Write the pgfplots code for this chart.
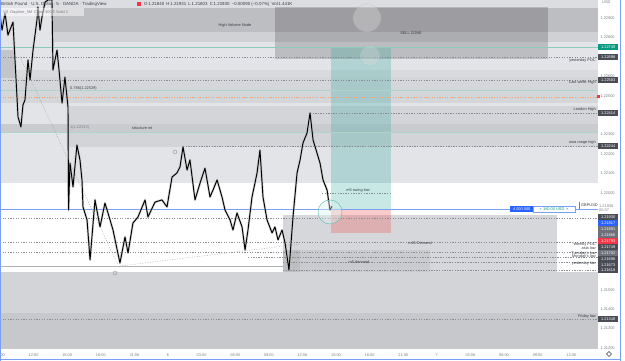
\documentclass[border=0pt]{standalone}
\usepackage{pgfplots}
\pgfplotsset{compat=1.18}
\usepackage{pgfplotstable}
\usepackage{fontspec}
\setmainfont{Liberation Sans}
\definecolor{tvgray}{HTML}{787B86}
\definecolor{tvtext}{HTML}{3A3D46}
\definecolor{cbase}{HTML}{E3E4E7}
\definecolor{dlc}{HTML}{8A8D96}
\definecolor{tealL}{HTML}{8CCBB8}
\definecolor{tealLL}{HTML}{ADD6C8}
\definecolor{tvteal}{HTML}{26A69A}
\definecolor{tvred}{HTML}{EF5350}
\definecolor{tvblue}{HTML}{2962FF}
\definecolor{lblue}{HTML}{7AA0F5}
\definecolor{orangeL}{HTML}{F2A36E}
\definecolor{bxdark}{HTML}{4A4D56}
\definecolor{bxgray}{HTML}{6E717B}
\definecolor{bxteal}{HTML}{089981}
\definecolor{bxred}{HTML}{F23645}
\definecolor{gA}{HTML}{DCDDE0}
\definecolor{gB}{HTML}{BDBEC2}
\definecolor{gC}{HTML}{D0D1D4}
\definecolor{gD}{HTML}{D9DADD}
\definecolor{gE}{HTML}{D5D6DA}
\definecolor{gF}{HTML}{D4D5D9}
\definecolor{gG}{HTML}{CACBCF}
\definecolor{gH}{HTML}{D3D4D8}
\definecolor{gI}{HTML}{C4C5C9}
\definecolor{gJ}{HTML}{C7C8CC}
\definecolor{gK}{HTML}{D6D7DA}
\definecolor{gL}{HTML}{B0B3B8}
\definecolor{diag}{HTML}{A0A3A8}
\newcommand{\tf}{\fontsize{4.4}{5}\selectfont}
\newcommand{\smf}{\fontsize{3.9}{4.3}\selectfont}
\newcommand{\pp}[2]{(axis cs:{#1/11.2-15},{1.229-(#2-18)/19410})}
\newcommand{\q}[2]{(#1,{361-#2})}
\pgfplotstableread{
h p
-15.00 1.22915
-14.82 1.22838
-14.55 1.22926
-14.29 1.22812
-13.84 1.22879
-13.66 1.22684
-13.39 1.22390
-13.13 1.22339
-12.95 1.22452
-12.77 1.22478
-12.50 1.22684
-12.32 1.22581
-12.05 1.22735
-11.70 1.22890
-11.61 1.22957
-11.43 1.22838
-11.25 1.22905
-10.98 1.22982
-10.71 1.22993
-10.36 1.22993
-10.27 1.22632
-9.91 1.22735
-9.73 1.22632
-9.46 1.22462
-9.20 1.22596
-9.02 1.22493
-8.93 1.22442
-8.88 1.21911
-8.75 1.22153
-8.48 1.22030
-8.13 1.22246
-7.86 1.22169
-7.68 1.22066
-7.59 1.21927
-7.23 1.21860
-6.96 1.21654
-6.52 1.21963
-6.07 1.21824
-5.63 1.21947
-5.36 1.21896
-4.91 1.21808
-4.29 1.21638
-3.84 1.21772
-3.57 1.21690
-3.13 1.21844
-2.68 1.21875
-2.05 1.21963
-1.79 1.21875
-1.16 1.21952
-0.54 1.21963
-0.09 1.21927
0.36 1.22081
0.80 1.22102
1.07 1.22133
1.34 1.22236
1.70 1.22117
1.96 1.22169
2.41 1.21963
2.86 1.22050
3.30 1.22127
3.75 1.21978
4.02 1.22014
4.38 1.22066
4.82 1.21978
5.09 1.21911
5.54 1.21860
5.80 1.21808
6.16 1.21896
6.61 1.21824
6.88 1.21705
7.14 1.21808
7.50 1.21978
7.95 1.22102
8.21 1.22220
8.48 1.21978
8.84 1.21860
9.29 1.21793
9.55 1.21824
9.82 1.21757
10.18 1.21808
10.45 1.21741
10.80 1.21602
11.16 1.21875
11.52 1.22102
11.79 1.22169
12.05 1.22256
12.41 1.22308
12.68 1.22411
12.95 1.22272
13.30 1.22205
13.57 1.22153
13.84 1.22066
14.20 1.22014
14.46 1.21911
14.64 1.21930
}\price
\tikzset{dl/.style={draw=dlc, line width=0.4pt, dash pattern=on 1.3pt off 1.3pt}}
\newcommand{\plab}[3]{\node[fill=#3, text=white, font=\smf, inner sep=0pt, minimum width=20pt, minimum height=5.4pt, anchor=west] at \q{598}{#1} {#2};}
\newcommand{\rl}[2]{\node[font=\smf, text=tvtext, anchor=east, inner sep=0pt] at \q{596}{#1} {#2};}
\begin{document}
\begin{tikzpicture}[x=1pt,y=1pt]
\useasboundingbox (0,0) rectangle (625,361);
\begin{axis}[
  at={(0pt,12pt)}, anchor=south west,
  width=598pt, height=349pt, scale only axis,
  xmin=-15, xmax=38.39, ymin=1.21195, ymax=1.22993,
  axis line style={draw=none},
  major tick length=0pt,
  xtick={-15,-12,...,36},
  xticklabels={09:00,12:00,15:00,18:00,21:00,6,03:00,06:00,09:00,12:00,15:00,18:00,21:00,7,03:00,06:00,09:00,12:00},
  ytick={1.229,1.228,1.226,1.225,1.223,1.222,1.221,1.220,1.215,1.214,1.213,1.212},
  yticklabels={1.22900,1.22800,1.22600,1.22500,1.22300,1.22200,1.22100,1.22000,1.21500,1.21400,1.21300,1.21200},
  yticklabel pos=right, xtick pos=bottom, ytick pos=right,
  tick label style={font=\smf, text=tvgray},
  yticklabel style={anchor=west, xshift=-1pt},
  xticklabel style={yshift=-1pt},
  clip mode=individual,
]
% upper background and bands
\fill[cbase] \pp{0}{0} rectangle \pp{598}{183};
\fill[gA] \pp{53}{0} rectangle \pp{598}{8};
\fill[gB] \pp{53}{8} rectangle \pp{598}{32};
\fill[gC] \pp{53}{32} rectangle \pp{598}{42};
\fill[gD] \pp{0}{70} rectangle \pp{598}{77};
\fill[gE] \pp{0}{77} rectangle \pp{598}{103};
\fill[gF] \pp{68}{106} rectangle \pp{598}{124};
\fill[gG] \pp{0}{124} rectangle \pp{598}{132};
\fill[gH] \pp{68}{132} rectangle \pp{598}{147};
\fill[gI] \pp{0}{50} rectangle \pp{15}{78};
\fill[black, opacity=0.17] \pp{275}{7} rectangle \pp{548}{59};
% lower zones
\fill[gH] \pp{0}{272} rectangle \pp{598}{313};
\fill[gJ] \pp{0}{313} rectangle \pp{598}{349};
\fill[gK] \pp{283}{215} rectangle \pp{557}{272};
\fill[gG] \pp{283}{250} rectangle \pp{430}{272};
\fill[gB] \pp{283}{250} rectangle \pp{300}{272};
% position tool
\fill[tvteal, opacity=0.26] \pp{331}{47} rectangle \pp{391}{209};
\fill[tvred, opacity=0.3] \pp{331}{209} rectangle \pp{391}{233};
% horizontal levels
\draw[tealL, line width=0.6pt] \pp{0}{47} -- \pp{598}{47};
\draw[tealLL, line width=0.6pt] \pp{0}{90} -- \pp{598}{90};
\draw[tealLL, line width=0.6pt] \pp{0}{132} -- \pp{598}{132};
\draw[orangeL, line width=0.45pt, dash pattern=on 1.3pt off 1.3pt] \pp{0}{97} -- \pp{598}{97};
\draw[dl] \pp{0}{57} -- \pp{598}{57};
\draw[dl] \pp{0}{80} -- \pp{598}{80};
\draw[dl] \pp{310}{113} -- \pp{598}{113};
\draw[dl] \pp{183}{146} -- \pp{598}{146};
\draw[dl] \pp{322}{193} -- \pp{391}{193};
\draw[dl] \pp{0}{218} -- \pp{598}{218};
\draw[dl] \pp{0}{242} -- \pp{598}{242};
\draw[dl] \pp{0}{252} -- \pp{598}{252};
\draw[dl] \pp{248}{257} -- \pp{598}{257};
\draw[dl] \pp{283}{262} -- \pp{598}{262};
\draw[dl] \pp{283}{270} -- \pp{598}{270};
\draw[dl] \pp{0}{319} -- \pp{598}{319};
\draw[gL, line width=0.5pt] \pp{0}{266} -- \pp{283}{266};
\draw[lblue, line width=0.5pt] \pp{0}{209} -- \pp{598}{209};
% diagonals
\draw[diag, line width=0.4pt, dash pattern=on 1pt off 1.5pt] \pp{20}{57} -- \pp{118}{265};
\draw[diag, line width=0.4pt, dash pattern=on 1pt off 1.5pt] \pp{120}{266} -- \pp{300}{244};
% price
\addplot[gray!55, line width=2.4pt, line join=round, opacity=0.6] table[x=h,y=p]{\price};
\addplot[black, line width=0.95pt, line join=round] table[x=h,y=p]{\price};
\end{axis}
% ---- annotations (pixel positions)
\draw[gray!70, densely dotted, line width=0.4pt, fill=gray!25, fill opacity=0.35] \q{367}{18} circle (14);
\draw[tvteal!60, densely dotted, line width=0.4pt, fill=gray!30, fill opacity=0.35] \q{370}{56} circle (10);
\draw[tvteal!70, line width=0.5pt, fill=tvteal!15, fill opacity=0.4] \q{330}{212} circle (12);
\draw[gray, line width=0.3pt] \q{115}{273} circle (2);
\draw[gray, line width=0.3pt] \q{175}{152} circle (2);
% header
\fill[white, opacity=0.5] \q{0}{16} rectangle \q{84}{8};
\node[font=\tf, text=tvtext, anchor=west, inner sep=0pt] at \q{1}{4} {British Pound · U.S. Dollar · 5 · OANDA · TradingView};
\fill[bxred] \q{137}{2} rectangle \q{141}{6};
\node[font=\tf, text=tvtext, anchor=west, inner sep=0pt] at \q{144}{4} {O\,1.21840\enspace H\,1.21931\enspace L\,1.21803\enspace C\,1.21930\enspace −0.00090 (−0.07\%)\enspace Vol\,1.441K};
\node[font=\smf, text=tvgray, anchor=west, inner sep=0pt] at \q{3}{12} {VS\enspace Daytime\_5M\enspace Close 300 5 Solid 2};
% zone labels
\node[font=\smf, text=tvtext] at \q{235}{25} {High Volume Node};
\node[font=\smf, text=tvtext] at \q{411}{33} {SELL ZONE};
\node[font=\smf, text=tvtext, anchor=west, inner sep=0pt] at \q{70}{88} {0.786(1.22529)};
\node[font=\smf, text=tvgray, anchor=west, inner sep=0pt] at \q{70}{127} {1(1.22313)};
\node[font=\smf, text=tvtext] at \q{142}{128} {structure int};
\node[font=\smf, text=tvtext] at \q{358}{190} {m5 swing low};
\node[font=\smf, text=tvtext] at \q{420}{243} {m15 Demand};
\node[font=\smf, text=tvtext] at \q{359}{262} {m5 demand};
% right line labels
\rl{60}{yesterday POC}
\rl{82}{Last week High}
\rl{109}{London High}
\rl{142}{asia range high}
\rl{244}{Weekly POC}
\rl{248}{asia low}
\rl{253}{Tuesday's low}
\rl{256}{Monday's low}
\rl{263}{yesterday low}
\rl{316}{Friday low}
% position tool label
\node[fill=tvblue, text=white, font=\smf, inner sep=0pt, minimum width=23pt, minimum height=6pt, anchor=west] at \q{510}{209} {4 000 000};
\node[fill=white, draw=lblue, line width=0.3pt, text=bxteal, font=\smf, inner sep=0pt, minimum width=42pt, minimum height=6pt, anchor=west] at \q{533}{209} {+ 160.00 USD\enspace\textcolor{tvblue}{×}};
\node[font=\smf, text=tvtext, anchor=west, inner sep=0pt] at \q{581}{205} {GBPUSD};
\draw[tvgray, line width=0.3pt] \q{580}{202} -- \q{579}{202} -- \q{579}{208} -- \q{580}{208};
% price axis labels
\node[font=\smf, text=tvgray, anchor=west, inner sep=0pt] at \q{602}{2} {USD};
\node[font=\smf, text=tvgray, anchor=west, inner sep=0pt, align=left] at \q{599}{208} {1.21930\\00:37};
\plab{47}{1.22749}{bxteal}
\plab{57}{1.22698}{bxdark}
\plab{80}{1.22583}{bxdark}
\plab{113}{1.22414}{bxdark}
\plab{146}{1.22244}{bxdark}
\plab{217}{1.21930}{bxdark}
\plab{223}{1.21917}{tvblue}
\plab{229}{1.21891}{bxgray}
\plab{235}{1.21866}{bxgray}
\plab{241}{1.21793}{bxred}
\plab{247}{1.21749}{bxdark}
\plab{253}{1.21702}{bxgray}
\plab{259}{1.21696}{bxdark}
\plab{265}{1.21673}{bxdark}
\plab{270.5}{1.21618}{bxdark}
\plab{319}{1.21348}{bxdark}
\fill[bxred] \q{597}{95.5} rectangle \q{599.5}{98.5};
% frame
\draw[lblue, line width=0.6pt] \q{0.4}{0} -- \q{0.4}{361};
\draw[lblue, line width=0.6pt] \q{620}{0} -- \q{620}{361};
\draw[lblue, line width=0.6pt] \q{0}{359} -- \q{620}{359};
\draw[tvtext, line width=0.4pt] \q{609}{351.5} -- \q{611.5}{354} -- \q{609}{356.5} -- \q{606.5}{354} -- cycle;
\end{tikzpicture}
\end{document}
